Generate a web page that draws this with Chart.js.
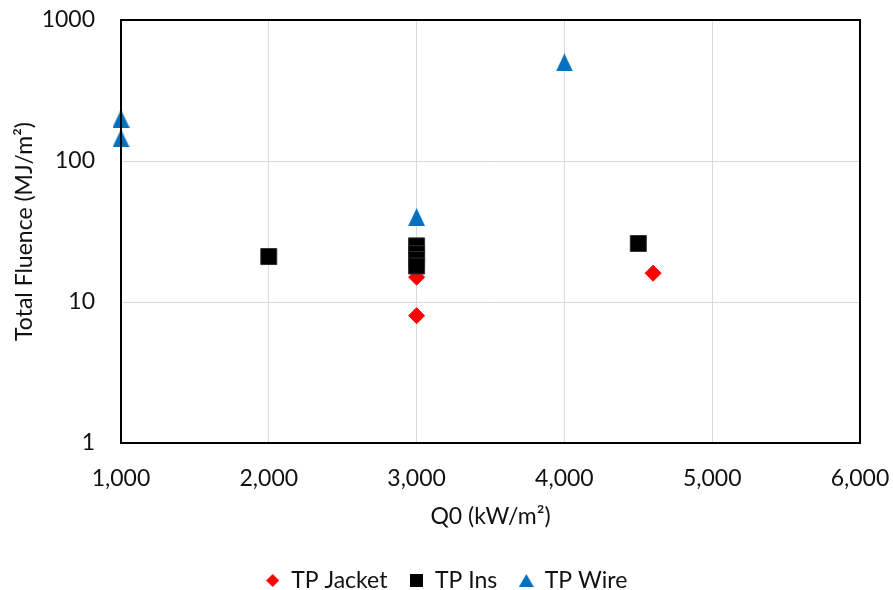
<!DOCTYPE html>
<html>
<head>
<meta charset="utf-8">
<script src="https://cdn.jsdelivr.net/npm/chart.js@4.4.1/dist/chart.umd.min.js"></script>
<style>
  html, body { margin: 0; padding: 0; background: #ffffff; }
  #wrap { width: 893px; height: 590px; }
</style>
</head>
<body>
<div id="wrap"><canvas id="chart" width="893" height="590"></canvas></div>
<script>
// Total fluence versus peak heat flux Q0, one series per component
const jacketQ0 = [3000, 3000, 4600];
const jacketFluence = [15, 8, 16];

const insQ0 = [2000, 3000, 3000, 3000, 3000, 4500];
const insFluence = [21, 25, 22, 20, 18, 26];

const wireQ0 = [1000, 1000, 3000, 4000];
const wireFluence = [200, 145, 40, 500];

const yTickValues = [1, 10, 100, 1000];
const xTickValues = [1000, 2000, 3000, 4000, 5000, 6000];

const seriesNames = ['TP Jacket', 'TP Ins', 'TP Wire'];

const FONT = 'Lato, "Open Sans", sans-serif';
const TEXT = '#111111';
const FONT_SIZE = 23;

function pairs(xs, ys) {
  return xs.map((x, i) => ({ x: x, y: ys[i] }));
}

// Small offscreen marker images
function marker(w, h, color, shape) {
  const c = document.createElement('canvas');
  c.width = w; c.height = h;
  const g = c.getContext('2d');
  g.fillStyle = color;
  g.beginPath();
  if (shape === 'triangle') {
    g.moveTo(w / 2, 0);
    g.lineTo(w, h);
    g.lineTo(0, h);
  } else if (shape === 'diamond') {
    g.moveTo(w / 2, 0);
    g.lineTo(w, h / 2);
    g.lineTo(w / 2, h);
    g.lineTo(0, h / 2);
  } else {
    g.rect(0, 0, w, h);
  }
  g.closePath();
  g.fill();
  return c;
}

const wireMarker = marker(17, 18, '#0070c0', 'triangle');
const legendMarkers = [
  marker(13, 13, '#ff0000', 'diamond'),
  marker(13, 13, '#000000', 'square'),
  marker(15, 13, '#0070c0', 'triangle')
];

// Black frame around the plotting area
const frame = {
  id: 'frame',
  afterDatasetsDraw(chart) {
    const a = chart.chartArea;
    const ctx = chart.ctx;
    ctx.save();
    ctx.strokeStyle = '#000000';
    ctx.lineWidth = 2;
    ctx.strokeRect(a.left, a.top, a.right - a.left, a.bottom - a.top);
    ctx.restore();
  }
};

Chart.defaults.font.family = FONT;
Chart.defaults.font.size = FONT_SIZE;
Chart.defaults.color = TEXT;

new Chart(document.getElementById('chart'), {
  type: 'scatter',
  data: {
    datasets: [
      {
        label: seriesNames[0],
        data: pairs(jacketQ0, jacketFluence),
        pointStyle: 'rectRot',
        pointRadius: 8,
        pointHoverRadius: 8,
        backgroundColor: '#ff0000',
        borderColor: '#ff0000',
        borderWidth: 1,
        order: 3,
        clip: false
      },
      {
        label: seriesNames[1],
        data: pairs(insQ0, insFluence),
        pointStyle: 'rect',
        pointRadius: 11.3,
        pointHoverRadius: 11.3,
        backgroundColor: '#000000',
        borderColor: '#303030',
        borderWidth: 1,
        order: 2,
        clip: false
      },
      {
        label: seriesNames[2],
        data: pairs(wireQ0, wireFluence),
        pointStyle: wireMarker,
        pointRadius: 9,
        backgroundColor: '#0070c0',
        borderColor: '#0070c0',
        order: 1,
        clip: false
      }
    ]
  },
  options: {
    responsive: false,
    animation: false,
    events: [],
    layout: { padding: { left: 0, right: 0, top: 20, bottom: -12 } },
    scales: {
      x: {
        type: 'linear',
        min: 1000,
        max: 6000,
        afterBuildTicks(scale) {
          scale.ticks = xTickValues.map(v => ({ value: v }));
        },
        afterFit(scale) {
          scale.height = 104;
          scale.paddingLeft = 0;
          scale.paddingRight = 0;
        },
        ticks: {
          padding: 22,
          color: TEXT,
          callback: v => v.toLocaleString('en-US')
        },
        grid: { color: '#d9d9d9', lineWidth: 1, drawTicks: false },
        border: { display: false },
        title: {
          display: true,
          text: 'Q0 (kW/m²)',
          color: TEXT,
          padding: { top: 0, bottom: 17 }
        }
      },
      y: {
        type: 'logarithmic',
        min: 1,
        max: 1000,
        afterBuildTicks(scale) {
          scale.ticks = yTickValues.map(v => ({ value: v }));
        },
        afterFit(scale) {
          scale.width = 121;
          scale.paddingTop = 0;
          scale.paddingBottom = 0;
        },
        ticks: {
          padding: 26,
          color: TEXT,
          callback: v => String(v)
        },
        grid: { color: '#d9d9d9', lineWidth: 1, drawTicks: false },
        border: { display: false },
        title: {
          display: true,
          text: 'Total Fluence (MJ/m²)',
          color: TEXT,
          padding: { top: 11, bottom: 0 }
        }
      },
      // empty margin on the right of the plot, kept so the legend stays centred on the page
      gutter: {
        type: 'linear',
        position: 'right',
        display: true,
        afterFit(scale) {
          scale.width = 33;
          scale.paddingTop = 0;
          scale.paddingBottom = 0;
        },
        ticks: { display: false },
        grid: { display: false, drawTicks: false },
        border: { display: false },
        title: { display: false }
      }
    },
    plugins: {
      tooltip: { enabled: false },
      legend: {
        position: 'bottom',
        labels: {
          usePointStyle: true,
          boxHeight: 11,
          pointStyleWidth: 14,
          padding: 22,
          color: TEXT,
          sort: (a, b) => a.datasetIndex - b.datasetIndex,
          generateLabels(chart) {
            const items = Chart.defaults.plugins.legend.labels.generateLabels(chart);
            items.forEach(it => {
              it.pointStyle = legendMarkers[it.datasetIndex];
            });
            return items;
          }
        }
      }
    }
  },
  plugins: [frame]
});
</script>
</body>
</html>
